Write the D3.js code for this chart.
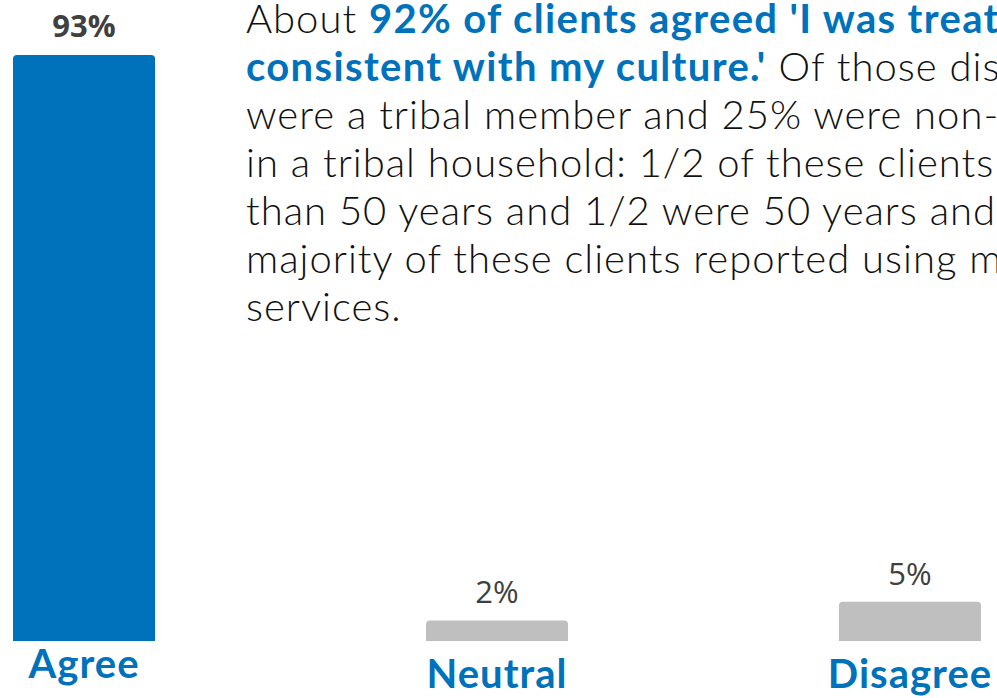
<!DOCTYPE html>
<html>
<head>
<meta charset="utf-8">
<script src="https://cdn.jsdelivr.net/npm/d3@7"></script>
<style>
  html, body { margin: 0; padding: 0; background: #ffffff; overflow: hidden; }
  svg { display: block; }
</style>
</head>
<body>
<svg id="chart" width="997" height="698"></svg>
<script>
// Survey responses: share of clients by answer
const categories = ["Agree", "Neutral", "Disagree"];
const values = [93, 2, 5];
const valueLabels = ["93%", "2%", "5%"];
const barColors = ["#0072BC", "#BFBFBF", "#BFBFBF"];

// Commentary text, one entry per line; bold runs are highlighted in blue
const noteLines = [
  [["About ", false], ["92% of clients agreed 'I was treat", true]],
  [["consistent with my culture.'", true], [" Of those dis", false]],
  [["were a tribal member and 25% were non-", false]],
  [["in a tribal household: 1/2 of these clients", false]],
  [["than 50 years and 1/2 were 50 years and", false]],
  [["majority of these clients reported using m", false]],
  [["services.", false]]
];

const W = 997, H = 698;
const blue = "#0072BC";
const svg = d3.select("#chart");

const baseY = 641;
const x = d3.scaleBand()
  .domain(categories)
  .range([13, 981])
  .paddingInner(0.656)
  .paddingOuter(0);

const y = d3.scaleLinear()
  .domain([-1.3, 93])
  .range([baseY, 55]);

const data = categories.map((c, i) => ({ cat: c, value: values[i], label: valueLabels[i], color: barColors[i] }));

// bar with softly rounded top corners
function barPath(x0, y0, w, h, r) {
  r = Math.min(r, h / 2, w / 2);
  return `M${x0},${y0 + h}V${y0 + r}Q${x0},${y0} ${x0 + r},${y0}` +
         `H${x0 + w - r}Q${x0 + w},${y0} ${x0 + w},${y0 + r}V${y0 + h}Z`;
}

svg.append("g").selectAll("path")
  .data(data)
  .join("path")
  .attr("d", d => barPath(x(d.cat), y(d.value), x.bandwidth(), baseY - y(d.value), 4))
  .attr("fill", d => d.color);

// value labels above the bars
svg.append("g").selectAll("text")
  .data(data)
  .join("text")
  .attr("x", d => x(d.cat) + x.bandwidth() / 2)
  .attr("y", d => y(d.value) - (d.value > 50 ? 18 : 17))
  .attr("text-anchor", "middle")
  .attr("font-family", "'Open Sans', sans-serif")
  .attr("font-size", 31)
  .attr("font-weight", d => d.value > 50 ? 700 : 400)
  .attr("fill", "#404040")
  .text(d => d.label);

// category names under the bars
const catBaseline = { Agree: 678, Neutral: 688, Disagree: 688 };
svg.append("g").selectAll("text")
  .data(data)
  .join("text")
  .attr("x", d => x(d.cat) + x.bandwidth() / 2)
  .attr("y", d => catBaseline[d.cat])
  .attr("text-anchor", "middle")
  .attr("font-family", "Lato, 'Open Sans', sans-serif")
  .attr("font-size", 40)
  .attr("letter-spacing", 1)
  .attr("font-weight", 700)
  .attr("fill", blue)
  .text(d => d.cat);

// commentary block
const note = svg.append("text")
  .attr("font-family", "Lato, 'Open Sans', sans-serif")
  .attr("font-size", 40)
  .attr("fill", "#111111");

noteLines.forEach((line, i) => {
  line.forEach(([txt, strong], j) => {
    const t = note.append("tspan")
      .attr("font-weight", strong ? 700 : 300)
      .attr("letter-spacing", strong ? 1.35 : 1)
      .attr("fill", strong ? blue : "#111111")
      .text(txt);
    if (j === 0) t.attr("x", 246).attr("y", 33 + i * 48);
  });
});
</script>
</body>
</html>
